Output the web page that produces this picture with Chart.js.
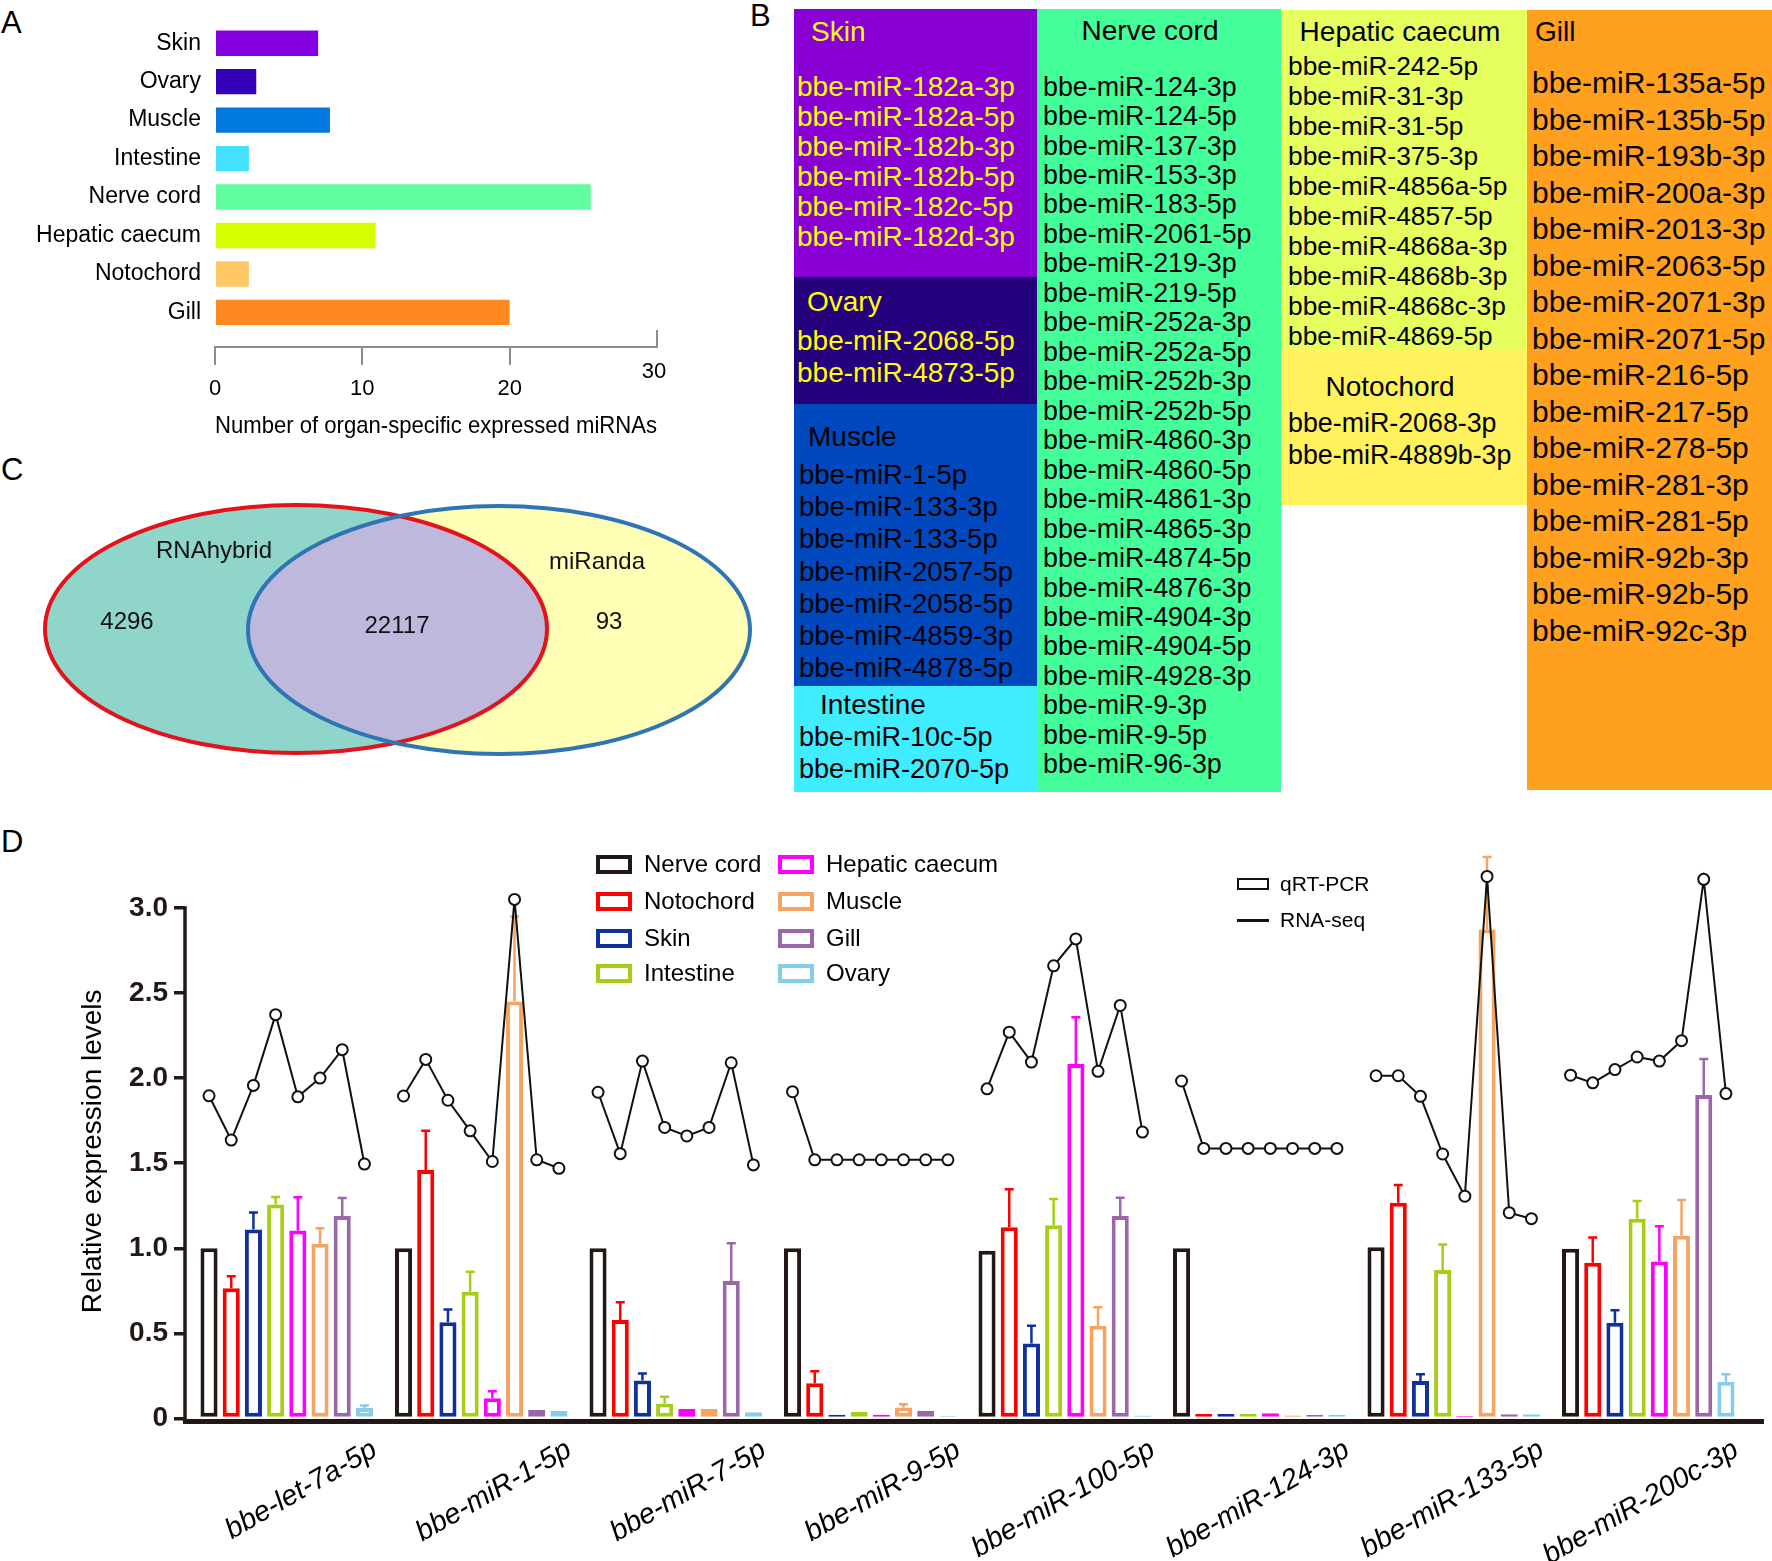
<!DOCTYPE html>
<html>
<head>
<meta charset="utf-8">
<script src="https://cdn.jsdelivr.net/npm/chart.js@4.4.1/dist/chart.umd.min.js"></script>
<style>
  html, body { margin: 0; padding: 0; background: #fff; }
  #fig { position: relative; width: 1772px; height: 1561px; overflow: hidden;
         font-family: "Liberation Sans", Arial, Helvetica, sans-serif; color: #000; }
  .abs { position: absolute; white-space: nowrap; }
  .letter { position: absolute; font-size: 31px; line-height: 32px; }
  canvas { position: absolute; }
</style>
</head>
<body>
<div id="fig">
  <div class="letter" style="left:1px;top:7px;">A</div>
  <div class="letter" style="left:750px;top:0px;">B</div>
  <div class="letter" style="left:1px;top:454px;">C</div>
  <div class="letter" style="left:1px;top:826px;">D</div>
  <canvas id="cA" width="760" height="450" style="left:0;top:0;"></canvas>
  <canvas id="cC" width="770" height="360" style="left:0;top:440px;"></canvas>
  <canvas id="cD" width="1772" height="731" style="left:0;top:830px;"></canvas>
</div>
<script>
// ---------------- DATA ----------------
// Panel A
const organsA = ['Skin', 'Ovary', 'Muscle', 'Intestine', 'Nerve cord', 'Hepatic caecum', 'Notochord', 'Gill'];
const countsA = [7, 2.8, 7.8, 2.3, 25.5, 10.9, 2.3, 20];
const ticksA = [0, 10, 20, 30];
const titleA = 'Number of organ-specific expressed miRNAs';

// Panel B
const skinMiRNAs = ['bbe-miR-182a-3p', 'bbe-miR-182a-5p', 'bbe-miR-182b-3p', 'bbe-miR-182b-5p', 'bbe-miR-182c-5p', 'bbe-miR-182d-3p'];
const ovaryMiRNAs = ['bbe-miR-2068-5p', 'bbe-miR-4873-5p'];
const muscleMiRNAs = ['bbe-miR-1-5p', 'bbe-miR-133-3p', 'bbe-miR-133-5p', 'bbe-miR-2057-5p', 'bbe-miR-2058-5p', 'bbe-miR-4859-3p', 'bbe-miR-4878-5p'];
const intestineMiRNAs = ['bbe-miR-10c-5p', 'bbe-miR-2070-5p'];
const nerveCordMiRNAs = ['bbe-miR-124-3p', 'bbe-miR-124-5p', 'bbe-miR-137-3p', 'bbe-miR-153-3p', 'bbe-miR-183-5p', 'bbe-miR-2061-5p',
  'bbe-miR-219-3p', 'bbe-miR-219-5p', 'bbe-miR-252a-3p', 'bbe-miR-252a-5p', 'bbe-miR-252b-3p', 'bbe-miR-252b-5p',
  'bbe-miR-4860-3p', 'bbe-miR-4860-5p', 'bbe-miR-4861-3p', 'bbe-miR-4865-3p', 'bbe-miR-4874-5p', 'bbe-miR-4876-3p',
  'bbe-miR-4904-3p', 'bbe-miR-4904-5p', 'bbe-miR-4928-3p', 'bbe-miR-9-3p', 'bbe-miR-9-5p', 'bbe-miR-96-3p'];
const hepaticMiRNAs = ['bbe-miR-242-5p', 'bbe-miR-31-3p', 'bbe-miR-31-5p', 'bbe-miR-375-3p', 'bbe-miR-4856a-5p', 'bbe-miR-4857-5p',
  'bbe-miR-4868a-3p', 'bbe-miR-4868b-3p', 'bbe-miR-4868c-3p', 'bbe-miR-4869-5p'];
const notochordMiRNAs = ['bbe-miR-2068-3p', 'bbe-miR-4889b-3p'];
const gillMiRNAs = ['bbe-miR-135a-5p', 'bbe-miR-135b-5p', 'bbe-miR-193b-3p', 'bbe-miR-200a-3p', 'bbe-miR-2013-3p', 'bbe-miR-2063-5p',
  'bbe-miR-2071-3p', 'bbe-miR-2071-5p', 'bbe-miR-216-5p', 'bbe-miR-217-5p', 'bbe-miR-278-5p', 'bbe-miR-281-3p',
  'bbe-miR-281-5p', 'bbe-miR-92b-3p', 'bbe-miR-92b-5p', 'bbe-miR-92c-3p'];

// Panel C
const vennSets = ['RNAhybrid', 'miRanda'];
const vennCounts = [4296, 22117, 93]; // RNAhybrid only, both, miRanda only

// Panel D
const mirnaNames = ['bbe-let-7a-5p', 'bbe-miR-1-5p', 'bbe-miR-7-5p', 'bbe-miR-9-5p', 'bbe-miR-100-5p', 'bbe-miR-124-3p', 'bbe-miR-133-5p', 'bbe-miR-200c-3p'];
const tissueNames = ['Nerve cord', 'Notochord', 'Skin', 'Intestine', 'Hepatic caecum', 'Muscle', 'Gill', 'Ovary'];
const yTicksD = [0, 0.5, 1.0, 1.5, 2.0, 2.5, 3.0];
const yTitleD = 'Relative expression levels';
// qRT-PCR means
const qNerveCord = [1.0, 1.0, 1.0, 1.0, 0.986, 1.0, 1.006, 0.997];
const qNotochord = [0.765, 1.46, 0.578, 0.207, 1.124, 0.026, 1.267, 0.915];
const qSkin      = [1.11, 0.565, 0.223, 0.022, 0.44, 0.026, 0.22, 0.562];
const qIntestine = [1.257, 0.744, 0.088, 0.04, 1.135, 0.026, 0.873, 1.174];
const qHepatic   = [1.105, 0.118, 0.055, 0.022, 2.083, 0.03, 0.015, 0.923];
const qMuscle    = [1.027, 2.45, 0.055, 0.065, 0.545, 0.018, 2.873, 1.074];
const qGill      = [1.19, 0.05, 0.807, 0.045, 1.19, 0.02, 0.025, 1.90];
const qOvary     = [0.061, 0.045, 0.036, 0.015, 0.017, 0.022, 0.025, 0.215];
// qRT-PCR upper error
const eNerveCord = [0, 0, 0, 0, 0, 0, 0, 0];
const eNotochord = [0.07, 0.23, 0.105, 0.071, 0.223, 0, 0.105, 0.148];
const eSkin      = [0.10, 0.075, 0.041, 0, 0.105, 0, 0.039, 0.074];
const eIntestine = [0.045, 0.118, 0.039, 0, 0.155, 0, 0.149, 0.104];
const eHepatic   = [0.195, 0.042, 0, 0, 0.275, 0, 0, 0.207];
const eMuscle    = [0.09, 0.5, 0, 0.018, 0.108, 0, 0.427, 0.21];
const eGill      = [0.105, 0, 0.223, 0, 0.107, 0, 0, 0.213];
const eOvary     = [0.015, 0, 0, 0, 0, 0, 0, 0.044];
// RNA-seq
const rNerveCord = [1.896, 1.895, 1.917, 1.92, 1.937, 1.983, 2.014, 2.017];
const rNotochord = [1.636, 2.11, 1.556, 1.52, 2.27, 1.587, 2.014, 1.972];
const rSkin      = [1.957, 1.87, 2.10, 1.52, 2.094, 1.587, 1.893, 2.05];
const rIntestine = [2.373, 1.69, 1.71, 1.52, 2.66, 1.587, 1.554, 2.124];
const rHepatic   = [1.89, 1.51, 1.66, 1.52, 2.818, 1.587, 1.306, 2.10];
const rMuscle    = [2.0, 3.05, 1.71, 1.52, 2.04, 1.587, 3.185, 2.22];
const rGill      = [2.167, 1.52, 2.09, 1.52, 2.427, 1.587, 1.209, 3.168];
const rOvary     = [1.495, 1.47, 1.49, 1.52, 1.683, 1.587, 1.174, 1.909];

// ---------------- STYLES / LAYOUT ----------------
const FONT = '"Liberation Sans", Arial, Helvetica, sans-serif';
Chart.defaults.font.family = FONT;
Chart.defaults.color = '#000';
Chart.defaults.animation = false;

const organColorsA = ['#8400E0', '#3300BB', '#0078E0', '#44E0FF', '#5FFF9F', '#D4FF00', '#FFC864', '#FF8820'];
const tissueColors = ['#231815', '#FF0000', '#10309C', '#A6CE16', '#FF00FF', '#F5A462', '#9A68A8', '#86CDEB'];
const fig = document.getElementById('fig');

// ---------------- PANEL A ----------------
const raised30 = {
  id: 'raised30',
  afterDraw(chart) {
    const s = chart.scales.x, ctx = chart.ctx;
    const px = s.getPixelForValue(ticksA[ticksA.length - 1]);
    ctx.save();
    ctx.strokeStyle = '#8c8c8c'; ctx.lineWidth = 2;
    ctx.beginPath(); ctx.moveTo(px, s.top); ctx.lineTo(px, s.top - 17); ctx.stroke();
    ctx.fillStyle = '#000'; ctx.font = '22px ' + FONT;
    ctx.textAlign = 'center'; ctx.textBaseline = 'middle';
    ctx.fillText(String(ticksA[ticksA.length - 1]), px - 3, s.top + 25);
    ctx.restore();
  }
};
new Chart(document.getElementById('cA'), {
  type: 'bar',
  data: { datasets: [{
    data: countsA.map((v, i) => ({ x: v, y: i })),
    backgroundColor: organColorsA, borderWidth: 0,
    categoryPercentage: 1, barPercentage: 0.66
  }] },
  options: {
    responsive: false, animation: false, indexAxis: 'y',
    layout: { padding: { left: 0, top: 24, right: 103, bottom: 0 } },
    plugins: { legend: { display: false }, tooltip: { enabled: false } },
    scales: {
      y: {
        type: 'linear', reverse: true, min: -0.5, max: 7.9, offset: false,
        afterBuildTicks: s => { s.ticks = organsA.map((_, i) => ({ value: i })); },
        afterFit: s => { s.width = 215; },
        ticks: { callback: v => organsA[v], font: { size: 23 }, padding: 6, color: '#000' },
        grid: { display: false }, border: { display: false }
      },
      x: {
        type: 'linear', min: 0, max: 30,
        afterBuildTicks: s => { s.ticks = ticksA.map(v => ({ value: v })); },
        afterFit: s => { s.height = 103; },
        ticks: { callback: v => (v === ticksA[ticksA.length - 1] ? '' : String(v)), font: { size: 22 }, padding: 11, color: '#000' },
        grid: { drawOnChartArea: false, drawTicks: true, tickLength: 18, lineWidth: 2,
                color: c => (c.tick && c.tick.value === ticksA[ticksA.length - 1]) ? 'rgba(0,0,0,0)' : '#8c8c8c' },
        border: { display: true, color: '#8c8c8c', width: 2 },
        title: { display: true, text: titleA, font: { size: 24 }, color: '#000', padding: { top: 0, bottom: 9 } }
      }
    }
  },
  plugins: [raised30]
});

// ---------------- PANEL B (table) ----------------
const tableLayout = [
  { name: 'Skin', list: skinMiRNAs, x0: 794, x1: 1037, y0: 9, y1: 277, bg: '#8800D4', fg: '#FFFF00', hx: 811, hc: false, hy: 32, ix: 797, iy: 87, step: 30, fs: 28 },
  { name: 'Ovary', list: ovaryMiRNAs, x0: 794, x1: 1037, y0: 277, y1: 404, bg: '#24007C', fg: '#FFFF00', hx: 807, hc: false, hy: 302, ix: 797, iy: 341, step: 31.6, fs: 28 },
  { name: 'Muscle', list: muscleMiRNAs, x0: 794, x1: 1037, y0: 404, y1: 686, bg: '#0048BE', fg: '#000', hx: 808, hc: false, hy: 437, ix: 799, iy: 475, step: 32.2, fs: 27.5 },
  { name: 'Intestine', list: intestineMiRNAs, x0: 794, x1: 1037, y0: 686, y1: 792, bg: '#40ECFF', fg: '#000', hx: 820, hc: false, hy: 705, ix: 799, iy: 738, step: 31.7, fs: 27 },
  { name: 'Nerve cord', list: nerveCordMiRNAs, x0: 1037, x1: 1281, y0: 9, y1: 792, bg: '#44FF99', fg: '#000', hx: 1150, hc: true, hy: 31, ix: 1043, iy: 87.3, step: 29.47, fs: 26.8 },
  { name: 'Hepatic caecum', list: hepaticMiRNAs, x0: 1281, x1: 1527, y0: 10, y1: 350, bg: '#E6FF5E', fg: '#000', hx: 1400, hc: true, hy: 32, ix: 1288, iy: 66, step: 30, fs: 26.3 },
  { name: 'Notochord', list: notochordMiRNAs, x0: 1281, x1: 1527, y0: 350, y1: 505, bg: '#FFF25C', fg: '#000', hx: 1390, hc: true, hy: 387, ix: 1288, iy: 423, step: 32.7, fs: 26.8 },
  { name: 'Gill', list: gillMiRNAs, x0: 1527, x1: 1772, y0: 10, y1: 790, bg: '#FFA01E', fg: '#000', hx: 1535, hc: false, hy: 32, ix: 1532, iy: 83.3, step: 36.5, fs: 30 }
];
tableLayout.forEach(b => {
  const cell = document.createElement('div');
  cell.className = 'abs';
  cell.style.cssText = `left:${b.x0}px;top:${b.y0}px;width:${b.x1 - b.x0}px;height:${b.y1 - b.y0}px;background:${b.bg};`;
  fig.appendChild(cell);
  const h = document.createElement('div');
  h.className = 'abs';
  h.textContent = b.name;
  const hl = 34;
  h.style.cssText = `top:${b.hy - hl / 2}px;line-height:${hl}px;font-size:28px;color:${b.fg};` +
    (b.hc ? `left:${b.hx - 150}px;width:300px;text-align:center;` : `left:${b.hx}px;`);
  fig.appendChild(h);
  b.list.forEach((t, k) => {
    const it = document.createElement('div');
    it.className = 'abs';
    it.textContent = t;
    it.style.cssText = `left:${b.ix}px;top:${b.iy + k * b.step - b.step / 2}px;line-height:${b.step}px;font-size:${b.fs}px;color:${b.fg};`;
    fig.appendChild(it);
  });
});

// ---------------- PANEL C (Venn) ----------------
const vennGeom = { rx: 251, ry: 124, c1: [296, 189], c2: [499, 190] };
const vennPlugin = {
  id: 'venn',
  afterDatasetsDraw(chart) {
    const ctx = chart.ctx, xs = chart.scales.x, ys = chart.scales.y;
    const px = v => xs.getPixelForValue(v), py = v => ys.getPixelForValue(v);
    const rxp = Math.abs(px(vennGeom.rx) - px(0)), ryp = Math.abs(py(vennGeom.ry) - py(0));
    const e1 = () => { ctx.beginPath(); ctx.ellipse(px(vennGeom.c1[0]), py(vennGeom.c1[1]), rxp, ryp, 0, 0, Math.PI * 2); };
    const e2 = () => { ctx.beginPath(); ctx.ellipse(px(vennGeom.c2[0]), py(vennGeom.c2[1]), rxp, ryp, 0, 0, Math.PI * 2); };
    ctx.save();
    e1(); ctx.fillStyle = '#8FD5C9'; ctx.fill();
    e2(); ctx.fillStyle = '#FFFFB5'; ctx.fill();
    ctx.save(); e1(); ctx.clip(); e2(); ctx.fillStyle = '#BEB9DC'; ctx.fill(); ctx.restore();
    ctx.lineWidth = 4;
    e1(); ctx.strokeStyle = '#E3121B'; ctx.stroke();
    e2(); ctx.strokeStyle = '#2F74B5'; ctx.stroke();
    ctx.fillStyle = '#111'; ctx.font = '24px ' + FONT; ctx.textAlign = 'center'; ctx.textBaseline = 'middle';
    ctx.fillText(vennSets[0], px(214), py(111));
    ctx.fillText(vennSets[1], px(597), py(122));
    ctx.fillText(String(vennCounts[0]), px(127), py(182));
    ctx.fillText(String(vennCounts[1]), px(397), py(186));
    ctx.fillText(String(vennCounts[2]), px(609), py(182));
    ctx.restore();
  }
};
new Chart(document.getElementById('cC'), {
  type: 'scatter',
  data: { datasets: [{ data: [] }] },
  options: {
    responsive: false, animation: false,
    layout: { padding: 0 },
    plugins: { legend: { display: false }, tooltip: { enabled: false } },
    scales: {
      x: { type: 'linear', min: 0, max: 770, display: false },
      y: { type: 'linear', min: 0, max: 360, reverse: true, display: false }
    }
  },
  plugins: [vennPlugin]
});

// ---------------- PANEL D ----------------
const CAT_PCT = 0.913, BAR_PCT = 0.77;
const Y_AXIS_TOP = 3.0, Y_VIEW_MIN = -0.015, Y_VIEW_MAX = 3.324;
const qSets = [qNerveCord, qNotochord, qSkin, qIntestine, qHepatic, qMuscle, qGill, qOvary];
const eSets = [eNerveCord, eNotochord, eSkin, eIntestine, eHepatic, eMuscle, eGill, eOvary];
const rSets = [rNerveCord, rNotochord, rSkin, rIntestine, rHepatic, rMuscle, rGill, rOvary];

const dsD = tissueNames.map((t, j) => ({
  type: 'bar', label: t,
  data: qSets[j].map((v, i) => ({ x: i, y: v })),
  errors: eSets[j],
  borderColor: tissueColors[j], backgroundColor: '#ffffff',
  borderWidth: 4, borderSkipped: false,
  categoryPercentage: CAT_PCT, barPercentage: BAR_PCT,
  order: 1
}));
const linePts = [];
mirnaNames.forEach((_, i) => {
  rSets.forEach((arr, j) => linePts.push({ x: i + CAT_PCT * ((j + 0.5) / rSets.length - 0.5), y: arr[i] }));
  linePts.push({ x: i + 0.5, y: null });
});
dsD.push({
  type: 'line', label: 'RNA-seq', data: linePts,
  borderColor: '#111', borderWidth: 2, tension: 0, spanGaps: false,
  pointRadius: 5.5, pointBorderWidth: 2, pointBackgroundColor: '#fff', pointBorderColor: '#111',
  order: 0, clip: false
});

const errorBars = {
  id: 'errorBars',
  afterDatasetDraw(chart, args) {
    const ds = chart.data.datasets[args.index];
    if (!ds.errors) return;
    const ys = chart.scales.y, ctx = chart.ctx;
    ctx.save();
    ctx.strokeStyle = ds.borderColor; ctx.lineWidth = 2.5;
    args.meta.data.forEach((bar, i) => {
      const e = ds.errors[i];
      if (!e) return;
      const top = ys.getPixelForValue(ds.data[i].y + e);
      ctx.beginPath();
      ctx.moveTo(bar.x, bar.y); ctx.lineTo(bar.x, top);
      ctx.moveTo(bar.x - 4.5, top); ctx.lineTo(bar.x + 4.5, top);
      ctx.stroke();
    });
    ctx.restore();
  }
};
// y axis line (0 .. 3.0) and rotated y title, positioned through the y scale
const yAxisDecor = {
  id: 'yAxisDecor',
  beforeDatasetsDraw(chart) {
    const ys = chart.scales.y, ctx = chart.ctx;
    const x = ys.right;
    ctx.save();
    ctx.strokeStyle = '#231815'; ctx.lineWidth = 3.5;
    ctx.beginPath();
    ctx.moveTo(x, chart.chartArea.bottom); ctx.lineTo(x, ys.getPixelForValue(Y_AXIS_TOP) - 1.75);
    ctx.stroke();
    ctx.translate(ys.left + 93, ys.getPixelForValue(1.57));
    ctx.rotate(-Math.PI / 2);
    ctx.fillStyle = '#000'; ctx.font = '28px ' + FONT;
    ctx.textAlign = 'center'; ctx.textBaseline = 'middle';
    ctx.fillText(yTitleD, 0, 0);
    ctx.restore();
  }
};

new Chart(document.getElementById('cD'), {
  type: 'bar',
  data: { datasets: dsD },
  options: {
    responsive: false, animation: false,
    layout: { padding: { left: 0, top: 17, right: 9, bottom: 0 } },
    plugins: { legend: { display: false }, tooltip: { enabled: false } },
    scales: {
      x: {
        type: 'linear', min: -0.523, max: 7.59, offset: false, z: 1,
        afterBuildTicks: s => { s.ticks = mirnaNames.map((_, i) => ({ value: i })); },
        afterFit: s => { s.height = 140; },
        ticks: { callback: v => mirnaNames[v], autoSkip: false, minRotation: 30, maxRotation: 30,
                 labelOffset: 88, padding: 12, font: { size: 28.5, style: 'italic' }, color: '#000' },
        grid: { display: false, drawTicks: false },
        border: { display: true, width: 5, color: '#231815' }
      },
      y: {
        type: 'linear', min: Y_VIEW_MIN, max: Y_VIEW_MAX,
        afterBuildTicks: s => { s.ticks = yTicksD.map(v => ({ value: v })); },
        afterFit: s => { s.width = 185; },
        ticks: { callback: v => (v === 0 ? '0' : v.toFixed(1)), font: { size: 28, weight: 'bold' }, color: '#231815', padding: 6 },
        grid: { drawOnChartArea: false, drawTicks: true, tickLength: 11, lineWidth: 3.5, color: '#231815' },
        border: { display: false }
      }
    }
  },
  plugins: [errorBars, yAxisDecor]
});

// Legends for panel D (HTML)
const legCols = [596, 778], legRows = [864, 901, 938, 973];
tissueNames.forEach((t, j) => {
  const cx = legCols[Math.floor(j / 4)], cy = legRows[j % 4];
  const box = document.createElement('div');
  box.className = 'abs';
  box.style.cssText = `left:${cx}px;top:${cy - 9.5}px;width:36px;height:19px;box-sizing:border-box;border:4px solid ${tissueColors[j]};background:#fff;`;
  fig.appendChild(box);
  const tx = document.createElement('div');
  tx.className = 'abs';
  tx.textContent = t;
  tx.style.cssText = `left:${cx + 48}px;top:${cy - 15}px;line-height:30px;font-size:24px;`;
  fig.appendChild(tx);
});
const legB = [['qRT-PCR', 884, 'box'], ['RNA-seq', 920, 'line']];
legB.forEach(([t, cy, kind]) => {
  const m = document.createElement('div');
  m.className = 'abs';
  m.style.cssText = kind === 'box'
    ? `left:1237px;top:${cy - 6}px;width:32px;height:12px;box-sizing:border-box;border:2px solid #111;`
    : `left:1237px;top:${cy - 1.5}px;width:32px;height:3px;background:#111;`;
  fig.appendChild(m);
  const tx = document.createElement('div');
  tx.className = 'abs';
  tx.textContent = t;
  tx.style.cssText = `left:1280px;top:${cy - 13}px;line-height:26px;font-size:21px;`;
  fig.appendChild(tx);
});
</script>
</body>
</html>
